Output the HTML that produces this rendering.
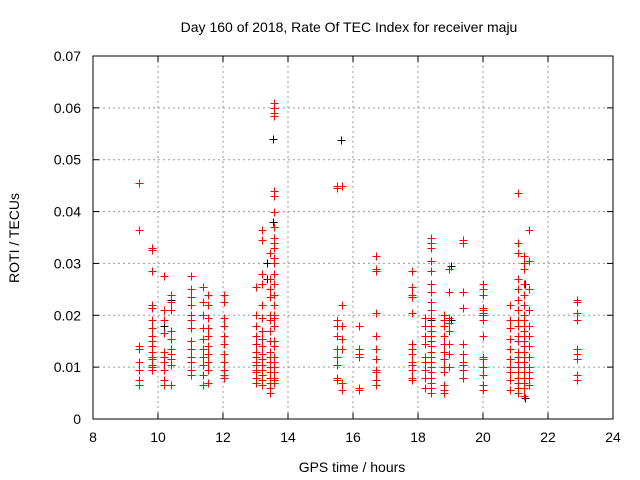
<!DOCTYPE html>
<html><head><meta charset="utf-8"><style>
body{margin:0;background:#fff}
svg{display:block;font-family:"Liberation Sans",sans-serif}
</style></head><body>
<svg id="chart" width="640" height="480">
<text x="349" y="32" text-anchor="middle" font-size="14">Day 160 of 2018, Rate Of TEC Index for receiver maju</text>
<text x="352" y="472" text-anchor="middle" font-size="14">GPS time / hours</text>
<text transform="translate(19,238) rotate(-90)" text-anchor="middle" font-size="14">ROTI / TECUs</text>
<g id="grid"></g><g id="marks"></g>
<rect x="93" y="56" width="520" height="363" fill="none" stroke="#000" stroke-width="1"/>
</svg>
<script>
const xTicks=[8,10,12,14,16,18,20,22,24];
const yTicks=[0,0.01,0.02,0.03,0.04,0.05,0.06,0.07];
const yTickLabels=["0","0.01","0.02","0.03","0.04","0.05","0.06","0.07"];
const redHours=[9.42,9.82,10.2,10.4,11.0,11.38,11.55,12.03,13.0,13.2,13.45,13.57,15.5,15.66,16.18,16.7,17.82,18.2,18.4,18.8,18.95,19.4,20.0,20.83,21.08,21.25,21.4,22.9];
const redValues=[
[0.0455,0.0365,0.014,0.0135,0.011,0.0095,0.0075,0.0065],
[0.033,0.0325,0.0285,0.022,0.0215,0.019,0.0175,0.016,0.015,0.014,0.013,0.012,0.0115,0.0105,0.01,0.0095],
[0.0275,0.021,0.019,0.0165,0.013,0.012,0.011,0.0095,0.0075,0.0065],
[0.024,0.0225,0.021,0.017,0.0155,0.0135,0.0125,0.0115,0.0105,0.0065],
[0.0275,0.025,0.0235,0.022,0.02,0.019,0.0175,0.015,0.0135,0.012,0.011,0.0095,0.0085],
[0.0255,0.0225,0.02,0.0175,0.0155,0.0135,0.012,0.0105,0.0085,0.0065],
[0.024,0.022,0.0195,0.0175,0.016,0.014,0.0125,0.011,0.0095,0.007],
[0.024,0.0225,0.0195,0.018,0.016,0.0145,0.0125,0.011,0.0095,0.0085,0.008],
[0.0255,0.02,0.018,0.016,0.0145,0.013,0.012,0.011,0.0105,0.0095,0.009,0.008,0.007],
[0.0365,0.0345,0.028,0.026,0.022,0.0195,0.017,0.0155,0.014,0.0125,0.0115,0.0105,0.0095,0.0085,0.0075,0.0065],
[0.032,0.027,0.025,0.0235,0.02,0.019,0.017,0.015,0.013,0.012,0.011,0.01,0.009,0.008,0.007,0.006,0.005],
[0.061,0.06,0.059,0.0585,0.044,0.043,0.04,0.037,0.035,0.034,0.033,0.031,0.03,0.028,0.026,0.024,0.022,0.02,0.0195,0.018,0.015,0.014,0.012,0.011,0.01,0.009,0.008,0.0075,0.007],
[0.045,0.0445,0.019,0.018,0.016,0.0135,0.012,0.0105,0.008,0.0075],
[0.045,0.022,0.018,0.0155,0.0135,0.007,0.0055],
[0.018,0.0135,0.0125,0.012,0.006,0.0055],
[0.0315,0.029,0.0285,0.0205,0.016,0.0135,0.0115,0.0095,0.009,0.0075,0.0065],
[0.0285,0.0255,0.024,0.0235,0.0205,0.0145,0.0135,0.0125,0.011,0.0105,0.0095,0.008,0.0075],
[0.0195,0.018,0.016,0.0145,0.012,0.011,0.0095,0.008,0.006],
[0.035,0.034,0.033,0.0305,0.0285,0.026,0.0245,0.0225,0.021,0.0195,0.018,0.017,0.016,0.015,0.014,0.013,0.012,0.011,0.01,0.009,0.008,0.007,0.006,0.005],
[0.02,0.019,0.018,0.016,0.0145,0.013,0.0115,0.01,0.009,0.0065,0.0055,0.005],
[0.029,0.0245,0.0195,0.0185,0.017,0.0145,0.0125,0.01],
[0.0345,0.034,0.0245,0.0215,0.0145,0.0125,0.011,0.0105,0.0095,0.008],
[0.026,0.025,0.024,0.0215,0.021,0.0205,0.02,0.019,0.016,0.012,0.0115,0.01,0.0085,0.0065,0.0055],
[0.022,0.019,0.0175,0.0155,0.0135,0.0115,0.01,0.009,0.0075,0.0055],
[0.0435,0.034,0.032,0.027,0.025,0.023,0.021,0.019,0.018,0.016,0.015,0.013,0.012,0.011,0.01,0.009,0.008,0.007,0.006,0.005],
[0.0315,0.03,0.029,0.026,0.024,0.022,0.02,0.019,0.018,0.017,0.016,0.015,0.014,0.013,0.012,0.011,0.01,0.009,0.008,0.007,0.006,0.0045],
[0.0365,0.0305,0.025,0.021,0.018,0.016,0.014,0.012,0.01,0.009,0.008,0.0065],
[0.023,0.0225,0.0205,0.019,0.0135,0.0125,0.0115,0.0085,0.0075]];
const blackHours=[9.42,10.2,10.4,13.35,13.55,15.5,15.64,18.4,19.0,21.3,22.9];
const blackValues=[[0.0095],[0.018,0.012],[0.023],[0.027,0.03],[0.054,0.038],[0.0445],[0.0538],[0.019],[0.0295,0.019],[0.004,0.026],[0.0075]];
const X0=93,X1=613,Y0=419,Y1=56;
const sx=h=>X0+(h-8)/16*(X1-X0);
const sy=v=>Y0-v/0.07*(Y0-Y1);
const NS="http://www.w3.org/2000/svg";
const grid=document.getElementById('grid'),marks=document.getElementById('marks');
function mk(t,a,p){const e=document.createElementNS(NS,t);for(const k in a)e.setAttribute(k,a[k]);p.appendChild(e);return e;}
xTicks.forEach((t,i)=>{const x=sx(t);
 if(i>0&&i<xTicks.length-1){const g=mk('line',{x1:x,x2:x,y1:Y1,y2:Y0,stroke:'#999','stroke-dasharray':'2,3'},grid);
 
 }
 mk('line',{x1:x,x2:x,y1:Y0,y2:Y0-6,stroke:'#000'},grid);mk('line',{x1:x,x2:x,y1:Y1,y2:Y1+6,stroke:'#000'},grid);
 const l=mk('text',{x:x,y:Y0+23,'text-anchor':'middle','font-size':14},grid);l.textContent=t;
 
 });
yTicks.forEach((t,i)=>{const y=sy(t);
 if(i>0&&i<yTicks.length-1){const g=mk('line',{x1:X0,x2:X1,y1:y,y2:y,stroke:'#999','stroke-dasharray':'2,3'},grid);
 
 }
 mk('line',{x1:X0,x2:X0+6,y1:y,y2:y,stroke:'#000'},grid);mk('line',{x1:X1,x2:X1-6,y1:y,y2:y,stroke:'#000'},grid);
 const l=mk('text',{x:X0-12,y:y+5,'text-anchor':'end','font-size':14},grid);l.textContent=yTickLabels[i];
 
 });
function plus(h,v,c,name){const x=Math.round(sx(h))+0.5,y=Math.round(sy(v))+0.5;
 const p=mk('path',{d:`M${x-4} ${y}H${x+4}M${x} ${y-4}V${y+4}`,stroke:c,'stroke-width':1,fill:'none'},marks);
 
 }
blackHours.forEach((h,i)=>blackValues[i].forEach(v=>plus(h,v,'#000','roti-point-black')));
redHours.forEach((h,i)=>redValues[i].forEach(v=>plus(h,v,'#f00','roti-point-red')));
</script>
</body></html>
